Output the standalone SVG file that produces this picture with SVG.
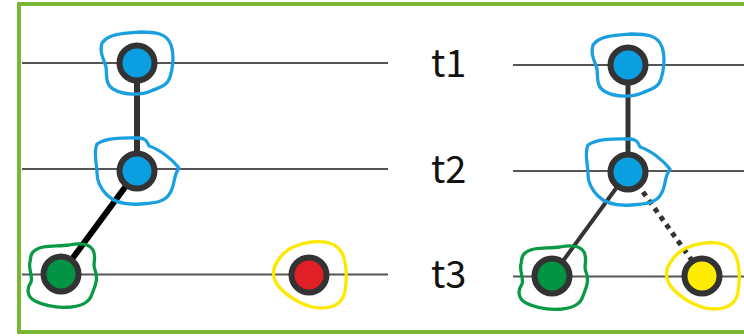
<svg xmlns="http://www.w3.org/2000/svg" xmlns:xlink="http://www.w3.org/1999/xlink" width="744" height="336" viewBox="0 0 744 336">
<style>
.axis{stroke:#555;stroke-width:2;fill:none}
.node{stroke:#333;stroke-width:6}
.blob{fill:none;stroke-width:3.3;stroke-linejoin:round}
.lbl{font-family:"Noto Sans CJK JP","Noto Sans",sans-serif;font-size:38px;fill:#111}
.edge{fill:none}
</style>
<defs>
<path id="b1" d="M -35,-20 C -28,-30 -10,-30 3,-31 C 18,-31 30,-30 34,-18 C 38,-6 35,8 33,14 C 30,24 20,25 14,28 C 5,32 -12,33 -24,26 C -32,21 -30,12 -31,4 C -33,-4 -38,-10 -35,-20 Z"/>
<path id="b2" d="M -40,-27 C -30,-34 -12,-33 2,-33 C 8,-33 10,-30 12,-25 C 22,-22 35,-12 42,-3 C 36,5 38,15 33,22 C 28,32 15,32 3,33 C -10,34 -22,32 -30,24 C -36,18 -40,10 -40,2 C -40,-8 -44,-18 -40,-27 Z"/>
<path id="b3" d="M -28,-22 C -20,-30 -5,-27 8,-29 C 18,-31 28,-31 32,-24 C 36,-16 31,-10 34,-4 C 38,6 33,14 31,20 C 28,30 18,32 10,33 C -2,34 -16,32 -26,27 C -35,22 -34,14 -30,8 C -28,2 -33,-6 -31,-12 C -30,-16 -31,-19 -28,-22 Z"/>
<path id="b4" d="M -16,-28 C -5,-33 10,-35 20,-32 C 28,-30 30,-26 33,-22 C 38,-12 38,5 36,16 C 34,28 25,33 12,33 C -2,33 -18,24 -28,14 C -36,6 -38,-4 -32,-13 C -28,-20 -22,-25 -16,-28 Z"/>
</defs>
<rect x="19" y="4" width="740" height="328" fill="#fff" stroke="#7ab833" stroke-width="4"/>
<g id="axes">
<line class="axis" x1="22" y1="63" x2="388" y2="63"/>
<line class="axis" x1="22" y1="169" x2="388" y2="169"/>
<line class="axis" x1="22" y1="274.5" x2="388" y2="274.5"/>
<line class="axis" x1="513" y1="65" x2="744" y2="65"/>
<line class="axis" x1="513" y1="171" x2="744" y2="171"/>
<line class="axis" x1="513" y1="276.5" x2="744" y2="276.5"/>
</g>
<g id="labels">
<text class="lbl" x="431" y="77">t1</text>
<text class="lbl" x="431" y="183">t2</text>
<text class="lbl" x="431" y="288">t3</text>
</g>
<g id="connectors">
<line class="edge" x1="137" y1="63" x2="137" y2="171" stroke="#333" stroke-width="6"/>
<line class="edge" x1="137" y1="171" x2="61" y2="274" stroke="#000" stroke-width="6"/>
<line class="edge" x1="628" y1="65" x2="628" y2="172" stroke="#333" stroke-width="5"/>
<line class="edge" x1="628" y1="172" x2="552" y2="276" stroke="#333" stroke-width="4"/>
<line class="edge" x1="643" y1="192" x2="693" y2="262" stroke="#333" stroke-width="5" stroke-dasharray="5 5"/>
</g>
<g id="n-left-t1"><use href="#b1" x="137" y="63" class="blob" stroke="#1aa0e0"/><circle class="node" cx="137" cy="63" r="17.5" fill="#0a9fe0"/></g>
<g id="n-left-t2"><use href="#b2" x="137" y="171" class="blob" stroke="#1aa0e0"/><circle class="node" cx="137" cy="171" r="17.5" fill="#0a9fe0"/></g>
<g id="n-left-t3-green"><use href="#b3" x="61" y="274" class="blob" stroke="#0a9a45"/><circle class="node" cx="61" cy="274" r="17.5" fill="#009444"/></g>
<g id="n-left-t3-red"><use href="#b4" x="309" y="275" class="blob" stroke="#ffe800"/><circle class="node" cx="309" cy="275" r="17.5" fill="#e11f26"/></g>
<g id="n-right-t1"><use href="#b1" x="628" y="65" class="blob" stroke="#1aa0e0"/><circle class="node" cx="628" cy="65" r="17.5" fill="#0a9fe0"/></g>
<g id="n-right-t2"><use href="#b2" x="628" y="172" class="blob" stroke="#1aa0e0"/><circle class="node" cx="628" cy="172" r="17.5" fill="#0a9fe0"/></g>
<g id="n-right-t3-green"><use href="#b3" x="552" y="276" class="blob" stroke="#0a9a45"/><circle class="node" cx="552" cy="276" r="17.5" fill="#009444"/></g>
<g id="n-right-t3-yellow"><use href="#b4" x="702" y="276" class="blob" stroke="#ffe800"/><circle class="node" cx="702" cy="276" r="17.5" fill="#ffec00"/></g>
</svg>
